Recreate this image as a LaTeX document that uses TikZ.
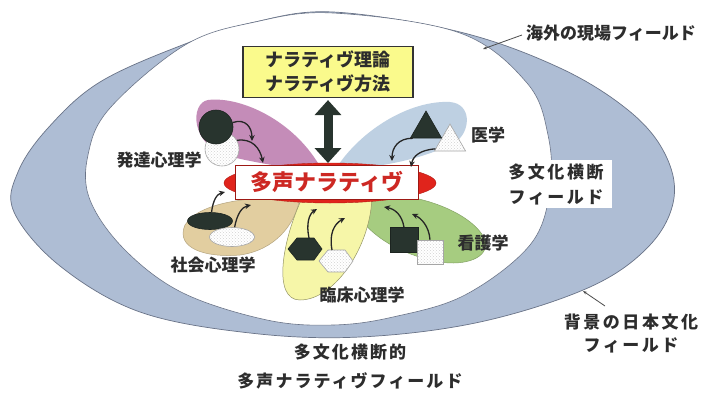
\documentclass[tikz,border=0pt]{standalone}
\usepackage{fontspec}
\newfontfamily\jp{Noto Sans CJK JP}
\usetikzlibrary{arrows.meta,shapes.geometric,patterns}
\definecolor{bandblue}{RGB}{174,189,212}
\definecolor{bandline}{RGB}{105,115,135}
\definecolor{petpurple}{RGB}{196,140,184}
\definecolor{petblue}{RGB}{190,208,226}
\definecolor{petgreen}{RGB}{166,204,128}
\definecolor{pettan}{RGB}{226,206,160}
\definecolor{petyellow}{RGB}{246,246,168}
\definecolor{redell}{RGB}{224,36,28}
\definecolor{boxyellow}{RGB}{250,250,140}
\definecolor{darkshape}{RGB}{40,52,46}
\definecolor{txt}{RGB}{45,45,45}
\definecolor{redtxt}{RGB}{205,40,35}
\tikzset{
  lbl/.style={font=\jp\bfseries\fontsize{17}{24}\selectfont, text=txt, inner sep=0pt, align=center},
  darksh/.style={fill=darkshape, draw=darkshape!70!black, line width=0.6pt, inner sep=0pt},
  lightsh/.style={preaction={fill=white}, pattern=crosshatch dots, pattern color=gray!35, draw=gray!70, line width=0.6pt, inner sep=0pt},
  curv/.style={-{Stealth[length=6pt,width=5.5pt]}, line width=1.3pt, draw=black!85},
  ptr/.style={-{Stealth[length=4pt,width=3pt]}, line width=0.8pt, draw=black!70},
  petal/.style={line width=0.5pt},
  dblarrow/.style={{Triangle[width=26pt,length=15pt]}-{Triangle[width=26pt,length=15pt]}, line width=9pt, draw=darkshape},
}
\begin{document}
\begin{tikzpicture}[x=1pt,y=-1pt]
\useasboundingbox (0,0) rectangle (720,405);
\fill[white] (0,0) rectangle (720,405);
% outer band
\draw[bandline, line width=0.7pt, fill=bandblue] plot[smooth cycle, tension=0.6] coordinates {
 (333,12) (460,32) (560,68) (628,110) (664,152) (674,198) (650,245) (590,287) (480,322) (360,337)
 (250,333) (140,312) (60,266) (14,212) (18,172) (48,128) (100,82) (185,44) (255,22)};
% inner white field
\draw[bandline, line width=0.6pt, fill=white] plot[smooth cycle, tension=0.6] coordinates {
 (333,13) (460,33) (527,83) (548,135) (550,190) (530,245) (465,295) (393,317) (333,325) (267,320)
 (183,293) (125,250) (90,200) (88,155) (110,108) (185,45) (255,22)};
% petals
\fill[petpurple] (322,170) .. controls (295,120) and (240,96) .. (208,100)
  .. controls (190,103) and (190,145) .. (228,156) .. controls (260,164) and (300,170) .. (322,170) -- cycle;
\fill[petblue] (335,170) .. controls (360,130) and (410,100) .. (450,102)
  .. controls (472,104) and (470,130) .. (458,140) .. controls (430,158) and (380,168) .. (335,170) -- cycle;
\draw[petal, fill=petgreen, draw=petgreen!80!black] (365,195) .. controls (420,190) and (475,215) .. (485,240)
  .. controls (490,258) and (465,266) .. (440,262) .. controls (400,255) and (370,235) .. (358,215) -- cycle;
\draw[petal, fill=pettan, draw=pettan!80!black] (300,198) .. controls (260,196) and (200,200) .. (185,225)
  .. controls (175,248) and (205,258) .. (240,255) .. controls (275,250) and (295,225) .. (300,198) -- cycle;
\draw[petal, fill=petyellow, draw=petyellow!60!black] (303,196) -- (372,194) .. controls (372,245) and (335,300) .. (300,300)
  .. controls (272,300) and (282,240) .. (303,196) -- cycle;
% central red ellipse
\node[ellipse, fill=redell, draw=redell!80!black, minimum width=212pt, minimum height=40pt] (red) at (330,183) {};
\node[draw=redell!70!black, fill=white, line width=0.5pt, minimum width=183pt, minimum height=34pt, inner sep=0pt,
  font=\jp\bfseries\fontsize{22}{24}\selectfont, text=redtxt] (poly) at (327,182) {多声ナラティヴ};
% theory box
\node[draw=black!80, fill=boxyellow, line width=1.2pt, minimum width=170pt, minimum height=51pt, inner sep=0pt,
  font=\jp\bfseries\fontsize{18}{24}\selectfont, text=txt, align=center] (theory) at (328,72) {ナラティヴ理論\\ナラティヴ方法};
\coordinate (redtop) at (328,163);
\draw[dblarrow] ([yshift=-2pt]theory.south) -- (redtop);
% purple shapes
\node[circle, lightsh, minimum size=34pt] (wc) at (222,149) {};
\node[circle, darksh, minimum size=34pt] (dc) at (216,127) {};
\coordinate (pe1) at (252,141);
\coordinate (pe2) at (263,163);
\draw[curv] (dc.15) .. controls (246,118) and (252,128) .. (pe1);
\draw[curv] (wc.30) .. controls (252,138) and (260,148) .. (pe2);
% blue shapes
\node[regular polygon, regular polygon sides=3, lightsh, minimum size=36pt] (wt) at (450,142) {};
\node[regular polygon, regular polygon sides=3, darksh, minimum size=36pt] (dt) at (426,129) {};
\coordinate (be1) at (392,161);
\coordinate (be2) at (411,167);
\draw[curv] (dt.215) .. controls (398,138) and (392,148) .. (be1);
\draw[curv] (wt.205) .. controls (420,150) and (413,156) .. (be2);
% tan shapes
\node[ellipse, darksh, minimum width=45pt, minimum height=17pt] (de) at (210,221) {};
\node[ellipse, lightsh, minimum width=45pt, minimum height=19pt] (we) at (232,237) {};
\coordinate (te1) at (225,192);
\coordinate (te2) at (251,205);
\draw[curv] (de.80) .. controls (213,200) and (217,194) .. (te1);
\draw[curv] (we.75) .. controls (237,214) and (242,207) .. (te2);
% yellow shapes (hexagons)
\filldraw[darksh] (288,249) -- (297,238) -- (314,238) -- (322,249) -- (314,260) -- (297,260) -- cycle;
\coordinate (dh) at (309,238);
\filldraw[lightsh] (319,261) -- (328,250) -- (345,250) -- (353,261) -- (345,272) -- (328,272) -- cycle;
\coordinate (wh) at (332,250);
\coordinate (ye1) at (317,209);
\coordinate (ye2) at (345,218);
\draw[curv] (dh) .. controls (306,224) and (309,214) .. (ye1);
\draw[curv] (wh) .. controls (329,234) and (334,224) .. (ye2);
% green shapes
\node[rectangle, darksh, minimum width=28pt, minimum height=25pt] (ds) at (404,240) {};
\node[rectangle, lightsh, minimum width=26pt, minimum height=24pt] (ws) at (430,252) {};
\coordinate (ge1) at (384,207);
\coordinate (ge2) at (412,214);
\draw[curv] (ds.north) .. controls (402,215) and (395,209) .. (ge1);
\draw[curv] (ws.north) .. controls (429,226) and (421,218) .. (ge2);
% discipline labels
\node[lbl] (hattatsu) at (159,160) {発達心理学};
\node[lbl] (igaku) at (488,135) {医学};
\node[lbl] (shakai) at (213,265) {社会心理学};
\node[lbl] (rinsho) at (362,295) {臨床心理学};
\node[lbl] (kango) at (483,243) {看護学};
% field labels
\node[lbl] (kaigai) at (611,33) {海外の現場フィールド};
\coordinate (kaigaipt) at (483,49);
\draw[ptr] ([xshift=-4pt,yshift=-2pt]kaigai.west) -- (kaigaipt);
\node[fill=white, minimum width=112pt, minimum height=48pt, inner sep=0pt] (tabox) at (556,184) {};
\node[lbl, font=\jp\bfseries\fontsize{17}{25}\selectfont\addfontfeatures{LetterSpace=15}] (tabunka) at (tabox) {多文化横断\\フィールド};
\node[lbl, font=\jp\bfseries\fontsize{17}{23}\selectfont\addfontfeatures{LetterSpace=15}] (haikei) at (631,334) {背景の日本文化\\フィールド};
\coordinate (haikeist) at (605,306);
\coordinate (haikeipt) at (583,291);
\draw[ptr] (haikeist) -- (haikeipt);
\node[lbl, font=\jp\bfseries\fontsize{17}{29}\selectfont\addfontfeatures{LetterSpace=12}] (bottom) at (350,367) {多文化横断的\\多声ナラティヴフィールド};
\end{tikzpicture}
\end{document}
